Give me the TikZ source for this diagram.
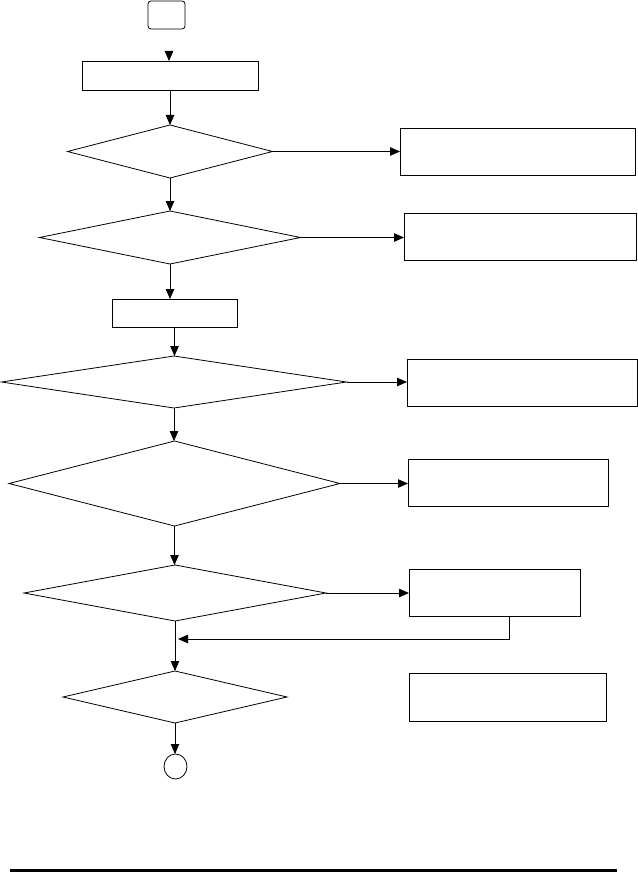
\documentclass[tikz,border=0pt]{standalone}
\usetikzlibrary{shapes.geometric,arrows.meta}
\begin{document}
\begin{tikzpicture}[x=1pt,y=-1pt,
  every node/.style={inner sep=0pt, outer sep=0pt, line width=0.8pt},
  procbox/.style={draw, rectangle, minimum width=#1},
  dec/.style={draw, diamond},
  flow/.style={line width=0.8pt, -{Triangle[length=10pt,width=8.5pt]}}]
\useasboundingbox (0,0) rectangle (637,872);
% nodes
\node[draw, rounded corners=3pt, minimum width=37pt, minimum height=28pt] (start) at (166.5,15) {};
\node[procbox=176pt, minimum height=29pt] (box1) at (170,75.5) {};
\node[dec, minimum width=205pt, minimum height=53pt] (d1) at (170,151.5) {};
\node[procbox=235pt, minimum height=47pt] (r1) at (517.5,151.5) {};
\node[dec, minimum width=261pt, minimum height=53pt] (d2) at (170,237.5) {};
\node[procbox=232pt, minimum height=47pt] (r2) at (520,237) {};
\node[procbox=125pt, minimum height=28pt] (box2) at (174.5,313) {};
\node[dec, minimum width=345pt, minimum height=52pt] (d3) at (174,382) {};
\node[procbox=230pt, minimum height=47pt] (r3) at (522,382.5) {};
\node[dec, minimum width=331pt, minimum height=85pt] (d4) at (174.5,483.5) {};
\node[procbox=200pt, minimum height=47pt] (r4) at (508,483) {};
\node[dec, minimum width=302pt, minimum height=56pt] (d5) at (175,593) {};
\node[procbox=171pt, minimum height=47pt] (r5) at (494.5,592.5) {};
\node[dec, minimum width=224pt, minimum height=52pt] (d6) at (175,697) {};
\node[procbox=197pt, minimum height=48pt] (r6) at (507.5,697) {};
\node[draw, ellipse, minimum width=23pt, minimum height=25pt] (end) at (175.5,766.5) {};
\coordinate (s0) at (169,51);
\coordinate (fb) at (178,639);
\coordinate (fbx) at (509,639);
\coordinate (bl) at (10,870.5);
\coordinate (br) at (617,870.5);
% connectors
\draw[flow] (s0) -- (s0 |- box1.north);
\draw[flow] (box1.south) -- (box1.south |- d1.north);
\draw[flow] (d1.east) -- (d1.east -| r1.west);
\draw[flow] (d1.south) -- (d2.north);
\draw[flow] (d2.east) -- (d2.east -| r2.west);
\draw[flow] (d2.south) -- (d2.south |- box2.north);
\draw[flow] (box2.south) -- (box2.south |- d3.north);
\draw[flow] (d3.east) -- (d3.east -| r3.west);
\draw[flow] (d3.south) -- (d3.south |- d4.north);
\draw[flow] (d4.east) -- (d4.east -| r4.west);
\draw[flow] (d4.south) -- (d4.south |- d5.north);
\draw[flow] (d5.east) -- (d5.east -| r5.west);
\draw[flow] (d5.south) -- (d6.north);
\draw[flow] (fbx |- r5.south) -- (fbx) -- (fb);
\draw[flow] (d6.south) -- (d6.south |- end.north);
\draw[line width=3pt] (bl) -- (br);
\end{tikzpicture}
\end{document}
